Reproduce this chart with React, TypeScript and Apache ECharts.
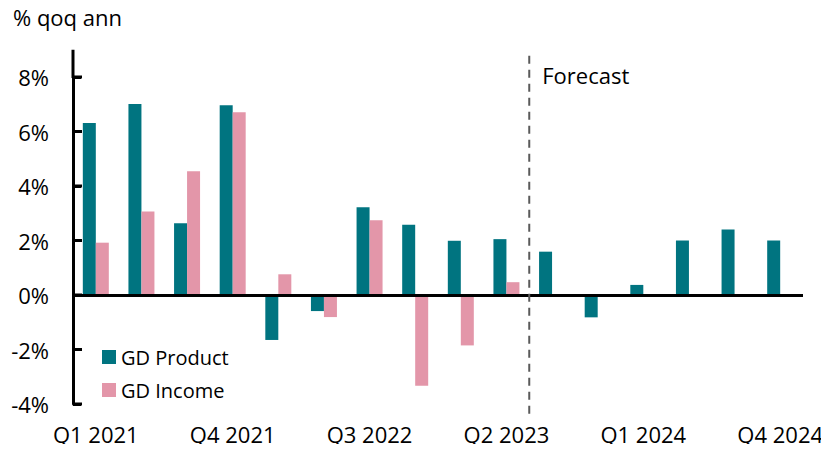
import React, { useEffect, useRef } from "react";
import * as echarts from "echarts";

const categories = [
  "Q1 2021", "Q2 2021", "Q3 2021", "Q4 2021",
  "Q1 2022", "Q2 2022", "Q3 2022", "Q4 2022",
  "Q1 2023", "Q2 2023", "Q3 2023", "Q4 2023",
  "Q1 2024", "Q2 2024", "Q3 2024", "Q4 2024",
];
const gdProduct = [6.31, 7.01, 2.63, 6.96, -1.65, -0.59, 3.22, 2.58, 1.99, 2.05, 1.59, -0.82, 0.37, 2.0, 2.4, 2.0];
const gdIncome = [1.92, 3.06, 4.54, 6.71, 0.76, -0.81, 2.74, -3.33, -1.85, 0.47, null, null, null, null, null, null];
const yTicks = [-4, -2, 0, 2, 4, 6, 8];
const yMin = -4;
const yMax = 8;
const yInterval = 2;
const yAxisTop = 9;
const forecastStartIndex = 10;

const FONT = "'Open Sans', sans-serif";

export default function App() {
  const ref = useRef<HTMLDivElement>(null);
  useEffect(() => {
    if (!ref.current) return;
    const chart = echarts.init(ref.current, null, { renderer: "svg" });
    chart.setOption({
      animation: false,
      textStyle: { fontFamily: FONT },
      grid: { left: 73, right: 26, top: 77, bottom: 48, containLabel: false },
      legend: {
        orient: "vertical",
        left: 97,
        top: 342,
        itemWidth: 14,
        itemHeight: 14,
        itemGap: 13,
        icon: "rect",
        textStyle: { fontSize: 20, color: "#000", fontFamily: FONT },
        data: ["GD Product", "GD Income"],
      },
      xAxis: {
        type: "category",
        data: categories,
        position: "bottom",
        axisLine: { show: false, onZero: false },
        axisTick: { show: false },
        axisLabel: {
          interval: 2,
          margin: 19,
          fontSize: 22,
          color: "#000",
          fontFamily: FONT,
        },
      },
      yAxis: {
        type: "value",
        min: yMin,
        max: yMax,
        interval: yInterval,
        splitLine: { show: false },
        axisLine: { show: true, lineStyle: { color: "#000", width: 3 } },
        axisTick: {
          show: true,
          inside: true,
          length: 8,
          lineStyle: { color: "#000", width: 3 },
        },
        axisLabel: {
          fontSize: 22,
          color: "#000",
          margin: 24,
          fontFamily: FONT,
          formatter: (v: number) => `${v}%`,
        },
      },
      series: [
        {
          name: "GD Product",
          type: "bar",
          data: gdProduct,
          barWidth: 13,
          barGap: "0%",
          itemStyle: { color: "#007480" },
          markLine: {
            silent: true,
            symbol: "none",
            label: { show: false },
            lineStyle: { color: "#000", width: 3, type: "solid" },
            data: [{ yAxis: 0 }],
            z: 10,
          },
        },
        {
          name: "GD Income",
          type: "bar",
          data: gdIncome,
          barWidth: 13,
          barGap: "0%",
          itemStyle: { color: "#E396A9" },
        },
      ],
    });

    const p9 = chart.convertToPixel({ xAxisIndex: 0 }, forecastStartIndex - 1) as number;
    const p10 = chart.convertToPixel({ xAxisIndex: 0 }, forecastStartIndex) as number;
    const xb = (p9 + p10) / 2;
    const yTop = chart.convertToPixel({ yAxisIndex: 0 }, yAxisTop) as number;
    const y8 = chart.convertToPixel({ yAxisIndex: 0 }, yMax) as number;
    const yBottom = chart.convertToPixel({ yAxisIndex: 0 }, yMin) as number;
    const x0 = chart.convertToPixel({ xAxisIndex: 0 }, 0) as number;
    const halfBand = (p10 - p9) / 2;
    const axisX = x0 - halfBand;
    const tickGraphics = yTicks.map((v) => {
      const y = chart.convertToPixel({ yAxisIndex: 0 }, v) as number;
      return {
        type: "line",
        shape: { x1: axisX, y1: y, x2: axisX + 9, y2: y },
        style: { stroke: "#000", lineWidth: 3 },
        z: 20,
      };
    });
    chart.setOption({
      graphic: [
        {
          type: "text",
          left: 13,
          top: 6,
          style: { text: "% qoq ann", fontSize: 22, fill: "#000", fontFamily: FONT },
        },
        {
          type: "line",
          shape: { x1: axisX, y1: yTop, x2: axisX, y2: y8 + 1 },
          style: { stroke: "#000", lineWidth: 3 },
          z: 20,
        },
        ...tickGraphics,
        {
          type: "line",
          shape: { x1: xb, y1: yTop + 6, x2: xb, y2: yBottom + 12 },
          style: { stroke: "#5a5a5a", lineWidth: 2, lineDash: [8, 6] },
          z: 20,
        },
        {
          type: "text",
          x: xb + 13,
          y: 75,
          style: {
            text: "Forecast",
            fontSize: 22,
            fill: "#000",
            fontFamily: FONT,
            textVerticalAlign: "middle",
          },
        },
      ],
    });

    return () => chart.dispose();
  }, []);
  return <div ref={ref} style={{ width: 829, height: 452, margin: -8 }} />;
}
